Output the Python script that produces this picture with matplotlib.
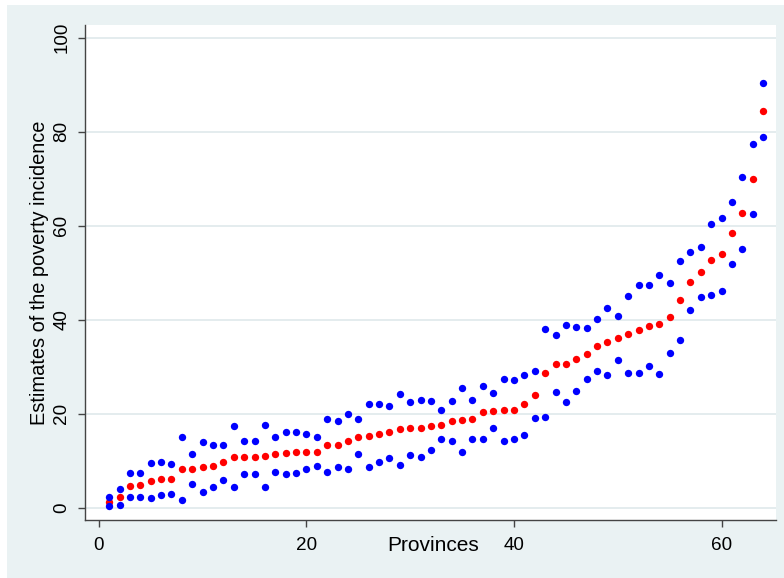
import matplotlib
matplotlib.use("Agg")
import matplotlib.pyplot as plt
from matplotlib.patches import Rectangle
from matplotlib import font_manager as fm
import numpy as np

provinces = list(range(1, 65))
estimate = [1.3, 2.3, 4.7, 4.8, 5.8, 6.2, 6.1, 8.3, 8.3, 8.7, 8.8, 9.7, 10.8, 10.8, 10.8, 11.1,
            11.4, 11.6, 11.8, 11.9, 11.9, 13.3, 13.4, 14.2, 15.1, 15.3, 15.8, 16.2, 16.7, 17.0, 17.0, 17.5,
            17.7, 18.4, 18.6, 18.8, 20.3, 20.6, 20.7, 20.8, 22.0, 24.0, 28.7, 30.6, 30.6, 31.6,
            32.8, 34.5, 35.3, 36.1, 36.9, 37.8, 38.7, 39.1, 40.5, 44.1, 48.1, 50.1, 52.8, 53.9,
            58.4, 62.7, 70.0, 84.5]
lower = [0.35, 0.6, 2.3, 2.3, 2.1, 2.7, 3.0, 1.6, 5.1, 3.4, 4.4, 5.9, 4.4, 7.2, 7.2, 4.5,
         7.6, 7.2, 7.4, 8.2, 8.8, 7.7, 8.6, 8.2, 11.4, 8.7, 9.7, 10.6, 9.0, 11.3, 10.9, 12.3,
         14.7, 14.3, 11.8, 14.7, 14.7, 17.0, 14.1, 14.6, 15.4, 19.1, 19.3, 24.6, 22.5, 24.8,
         27.4, 29.1, 28.2, 31.4, 28.7, 28.6, 30.1, 28.4, 32.9, 35.6, 42.1, 44.8, 45.3, 46.2,
         51.8, 55.1, 62.4, 78.9]
upper = [2.3, 4.0, 7.4, 7.4, 9.6, 9.8, 9.3, 15.0, 11.5, 14.0, 13.3, 13.3, 17.3, 14.3, 14.3, 17.7,
         15.0, 16.2, 16.1, 15.6, 15.0, 18.8, 18.4, 20.0, 18.9, 22.1, 22.0, 21.6, 24.3, 22.5, 23.0, 22.8,
         20.9, 22.8, 25.4, 22.9, 26.0, 24.5, 27.4, 27.2, 28.3, 29.1, 38.0, 36.7, 38.9, 38.4,
         38.3, 40.1, 42.4, 40.9, 45.1, 47.3, 47.4, 49.6, 47.9, 52.6, 54.5, 55.4, 60.3, 61.6,
         65.1, 70.4, 77.4, 90.3]
xticks = [0, 20, 40, 60]
yticks = [0, 20, 40, 60, 80, 100]

BG = "#EAF2F3"
FONT = ["Liberation Sans", "DejaVu Sans"]

# pick a narrow face for the x-axis title if one is installed
narrow_family, narrow_stretch = "Liberation Sans", "normal"
for f in fm.fontManager.ttflist:
    if f.name in ("Liberation Sans Narrow", "Arial Narrow"):
        narrow_family, narrow_stretch = f.name, "normal"
        break
else:
    for f in fm.fontManager.ttflist:
        if f.name == "Noto Sans" and str(f.stretch) in ("condensed", "semi-condensed", "extra-condensed"):
            narrow_family, narrow_stretch = "Noto Sans", f.stretch
            break
        if f.name in ("Noto Sans Condensed", "Noto Sans SemiCondensed"):
            narrow_family, narrow_stretch = f.name, "normal"
            break

fig = plt.figure(figsize=(7.84, 5.78), dpi=100, facecolor="white")
fig.patches.append(Rectangle((7 / 784, 0), 1, 573 / 578, transform=fig.transFigure,
                             facecolor=BG, edgecolor="none", zorder=-10))

ax = fig.add_axes([85 / 784, 58 / 578, 691 / 784, 495 / 578])
ax.set_facecolor("white")

ax.scatter(provinces, estimate, s=28, color="#FF0000", linewidths=0, zorder=3)
ax.scatter(provinces, lower, s=28, color="#0000FF", linewidths=0, zorder=4)
ax.scatter(provinces, upper, s=28, color="#0000FF", linewidths=0, zorder=4)

ax.set_xlim(-1.33, 65.24)
ax.set_ylim(-2.6, 102.7)
ax.set_xticks(xticks)
ax.set_yticks(yticks)
ax.set_xticklabels([str(t) for t in xticks], fontfamily=FONT, fontsize=13.6)
ax.set_yticklabels([str(t) for t in yticks], fontfamily=FONT, fontsize=13.6,
                   rotation=90, va="center")
ax.tick_params(axis="both", direction="out", length=5, width=1, color="#444444")
ax.tick_params(axis="x", pad=7)
ax.tick_params(axis="y", pad=5.5)

for s in ["top", "right"]:
    ax.spines[s].set_visible(False)
for s in ["left", "bottom"]:
    ax.spines[s].set_color("#444444")
    ax.spines[s].set_linewidth(1)

ax.yaxis.grid(True, color="#E4ECEE", linewidth=1.4)
ax.set_axisbelow(True)

ax.set_ylabel("Estimates of the poverty incidence", fontfamily=FONT, fontsize=14.4, labelpad=3)

xt = fig.text(432.7 / 784, (578 - 550.7) / 578, "Provinces",
              fontfamily=[narrow_family, "DejaVu Sans"], fontstretch=narrow_stretch,
              fontsize=17, ha="center", va="baseline")
fig.canvas.draw()
w = xt.get_window_extent().width
if w > 0:
    size = 17 * 79.0 / w
    size = min(17, size * 1.16)
    xt.set_fontsize(size)

fig.savefig("out.png", dpi=100, facecolor=fig.get_facecolor())
